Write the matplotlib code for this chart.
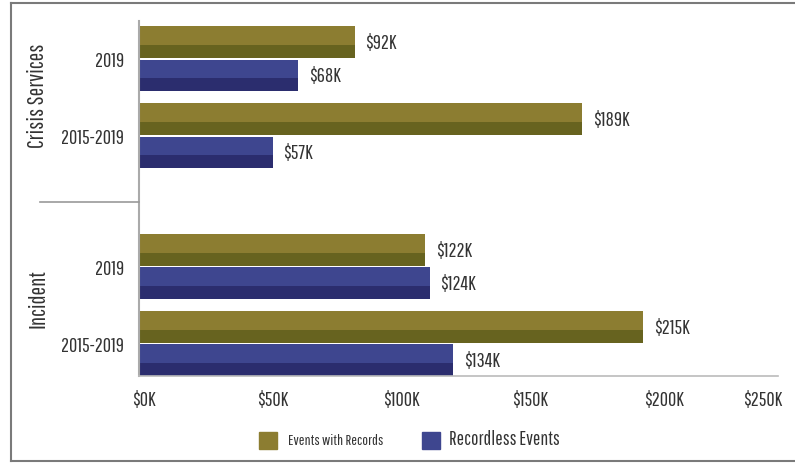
import matplotlib.pyplot as plt
from matplotlib.lines import Line2D
from matplotlib.patches import Rectangle

# Data (values in $K)
groups = ["Crisis Services", "Incident"]
periods = ["2019", "2015-2019", "2019", "2015-2019"]
with_records = [92, 189, 122, 215]
recordless = [68, 57, 124, 134]
series_names = ["Events with Records", "Recordless Events"]
tick_labels = ["$0K", "$50K", "$100K", "$150K", "$200K", "$250K"]

# Layout
W, H = 795, 464
row_pos = [0, 1, 2.7, 3.7]
tick_pos = [2, 57, 112, 167, 224, 266]
bar_h = 0.41
off = 0.215
light_frac = 0.58

olive_light, olive_dark = "#8c7d31", "#67631f"
blue_light, blue_dark = "#3e468f", "#2b2d6e"
text_col = "#333333"

plt.rcParams['font.family'] = ['Oswald Light', 'Pathway Gothic One', 'Oswald', 'DejaVu Sans']

fig = plt.figure(figsize=(W / 100, H / 100), dpi=100)
ax = fig.add_axes([139 / W, 1 - 377 / H, (778 - 139) / W, (377 - 22) / H])


def two_tone(y, vals, light, dark):
    # full bar in the dark shade, upper part in the light shade
    ax.barh(y, vals, height=bar_h, color=dark, linewidth=0)
    tops = [v - bar_h / 2 for v in y]
    ax.barh(tops, vals, height=bar_h * light_frac, align='edge', color=light, linewidth=0)


y_rec = [r - off for r in row_pos]
y_nor = [r + off for r in row_pos]
two_tone(y_rec, with_records, olive_light, olive_dark)
two_tone(y_nor, recordless, blue_light, blue_dark)

for y, v in zip(y_rec, with_records):
    ax.text(v + 4.5, y, f"${v}K", va='center', ha='left', fontsize=14.5, color=text_col)
for y, v in zip(y_nor, recordless):
    ax.text(v + 4.5, y, f"${v}K", va='center', ha='left', fontsize=14.5, color=text_col)

ax.set_xlim(0, 272.5)
ax.set_ylim(row_pos[-1] + 0.42, row_pos[0] - 0.49)
ax.set_yticks(row_pos)
ax.set_yticklabels(periods, fontsize=14.5, color=text_col)
ax.set_xticks(tick_pos)
ax.set_xticklabels(tick_labels, fontsize=14.5, color=text_col)
ax.tick_params(length=0)
ax.tick_params(axis='y', pad=11)
ax.tick_params(axis='x', pad=10)

for s in ["top", "right"]:
    ax.spines[s].set_visible(False)
ax.spines["left"].set_color("#aaaaaa")
ax.spines["left"].set_linewidth(1.5)
ax.spines["bottom"].set_color("#bbbbbb")
ax.spines["bottom"].set_linewidth(1.2)

# group labels and separator
fig.text(38 / W, 1 - 96 / H, groups[0], rotation=90, ha='center', va='center',
         fontsize=16.5, color=text_col)
fig.text(38 / W, 1 - 299 / H, groups[1], rotation=90, ha='center', va='center',
         fontsize=16.5, color=text_col)
fig.add_artist(Line2D([40 / W, 139 / W], [1 - 203 / H, 1 - 203 / H], color="#999999", lw=1.2))

# legend
fig.add_artist(Rectangle((259 / W, 1 - 450 / H), 18 / W, 17 / H, color=olive_light))
fig.text(288 / W, 1 - 441 / H, series_names[0], va='center', fontsize=11, color=text_col)
fig.add_artist(Rectangle((422 / W, 1 - 450 / H), 18 / W, 17 / H, color=blue_light))
fig.text(449 / W, 1 - 440 / H, series_names[1], va='center', fontsize=14, color=text_col)

# outer frame (left, top, bottom)
fc = "#7a7a7a"
fig.add_artist(Line2D([10.5 / W, 10.5 / W], [1 - 3.5 / H, 1 - 462 / H], color=fc, lw=1.5))
fig.add_artist(Line2D([10.5 / W, 1], [1 - 3.5 / H, 1 - 3.5 / H], color=fc, lw=1.5))
fig.add_artist(Line2D([10.5 / W, 1], [1 - 462 / H, 1 - 462 / H], color=fc, lw=1.5))

fig.savefig("out.png", dpi=100)
